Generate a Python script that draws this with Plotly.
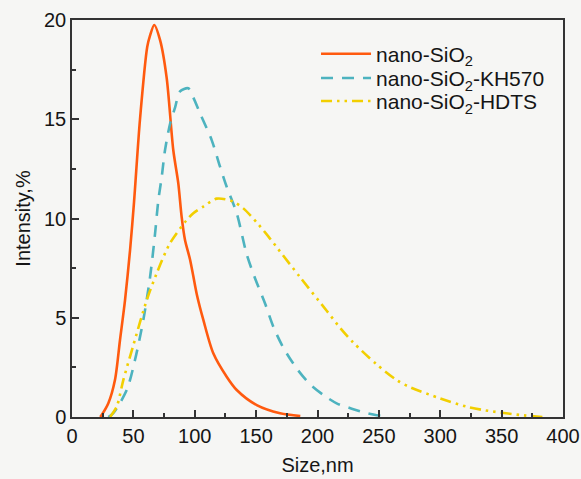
import plotly.graph_objects as go

# Data
size_sio2 = [23, 24.2, 29.6, 35, 39.1, 43.2, 47.3, 50.5, 55.4, 61.3, 63.5, 67, 71.7, 77.1,
             82.5, 86.6, 89.3, 92.1, 96.1, 98.8, 101.6, 107, 115.1, 126, 134.2, 150.5,
             169.5, 186]
int_sio2 = [0, 0.1, 0.69, 1.86, 3.88, 5.89, 8.41, 10.8, 15.0, 18.65, 19.2, 19.75, 19.0, 17.1,
            13.45, 11.77, 10.09, 8.9, 7.95, 7.1, 6.2, 4.89, 3.21, 2.03, 1.36, 0.6,
            0.19, 0.05]

size_kh570 = [29.6, 33.6, 44.6, 51.3, 58.1, 63.5, 67.6, 70.3, 73.1, 75.8, 80, 84, 88, 94.7,
              98.8, 104.3, 113.8, 120.6, 126, 134.2, 142.3, 149.1, 157.2, 164, 172.1, 183,
              193.9, 205, 215.6, 227.9, 240, 256]
int_kh570 = [0, 0.19, 1.36, 2.87, 4.89, 7.0, 9.2, 10.9, 12.1, 13.45, 14.8, 15.6, 16.4, 16.56,
             16.1, 15.3, 13.95, 12.61, 11.6, 10.26, 8.2, 6.99, 5.73, 4.55, 3.5, 2.45,
             1.65, 1.1, 0.69, 0.42, 0.2, 0]

size_hdts = [31, 36.4, 41.8, 49.9, 60.9, 69, 79.8, 93.4, 98.8, 107, 117.9, 131.4, 139.6,
             150.5, 159.9, 166.8, 185.7, 207.5, 218.3, 229.2, 248.2, 264.5, 275.4, 299.8,
             321.5, 335.1, 365, 384]
int_hdts = [0, 0.52, 1.86, 3.6, 5.89, 7.24, 8.75, 9.92, 10.26, 10.6, 11.0, 10.85, 10.51,
            9.8, 9.1, 8.55, 7.05, 5.35, 4.5, 3.75, 2.65, 1.86, 1.5, 0.94,
            0.52, 0.35, 0.1, 0]

x_ticks = [0, 50, 100, 150, 200, 250, 300, 350, 400]
y_ticks = [0, 5, 10, 15, 20]

FONT = "Liberation Sans, Arial, sans-serif"
BG = "#f6f6f4"
AX = "#333333"
TXT = "#151515"
FS = 20
LFS = 21

fig = go.Figure()
fig.add_trace(go.Scatter(x=size_sio2, y=int_sio2, mode="lines", name="nano-SiO<sub>2</sub>",
                         legend="legend",
                         line=dict(color="#ff5a0f", width=2.6, shape="spline", smoothing=0.8)))
fig.add_trace(go.Scatter(x=size_kh570, y=int_kh570, mode="lines", name="nano-SiO<sub>2</sub>-KH570",
                         legend="legend2",
                         line=dict(color="#4db3bf", width=2.6, shape="spline", smoothing=0.8,
                                   dash="12px,9px")))
fig.add_trace(go.Scatter(x=size_hdts, y=int_hdts, mode="lines", name="nano-SiO<sub>2</sub>-HDTS",
                         legend="legend3",
                         line=dict(color="#f2cf00", width=2.6, shape="spline", smoothing=0.8,
                                   dash="11px,5px,2.5px,5px,2.5px,5px")))

axis_common = dict(
    showline=True, linecolor=AX, linewidth=1.5, mirror=True,
    ticks="inside", ticklen=7, tickwidth=1.5, tickcolor=AX,
    showgrid=False, zeroline=False, automargin=False,
    tickfont=dict(family=FONT, size=FS, color=TXT),
)

fig.update_xaxes(range=[0, 400], tickvals=x_ticks,
                 minor=dict(ticks="inside", ticklen=4, tickwidth=1.5, tickcolor=AX, dtick=25),
                 title=dict(text="Size,nm", font=dict(family=FONT, size=FS, color=TXT), standoff=12),
                 **axis_common)
fig.update_yaxes(range=[0, 20], tickvals=y_ticks,
                 minor=dict(ticks="inside", ticklen=4, tickwidth=1.5, tickcolor=AX, dtick=2.5),
                 title=dict(text="Intensity,%", font=dict(family=FONT, size=FS, color=TXT), standoff=8),
                 **axis_common)

def leg(y):
    return dict(x=0.497, y=y, xanchor="left", yanchor="middle",
                bgcolor="rgba(0,0,0,0)", borderwidth=0,
                font=dict(family=FONT, size=LFS, color=TXT), itemwidth=50)

fig.update_layout(
    width=581, height=479,
    margin=dict(l=72, r=18, t=20, b=62, autoexpand=False),
    paper_bgcolor=BG, plot_bgcolor=BG,
    font=dict(family=FONT, size=FS, color=TXT),
    showlegend=True,
    legend=leg(0.914),
    legend2=leg(0.853),
    legend3=leg(0.795),
)

fig.write_html("out.html",
               config={"displayModeBar": False},
               post_script="document.body.style.margin='0';document.body.style.background='%s';" % BG)
